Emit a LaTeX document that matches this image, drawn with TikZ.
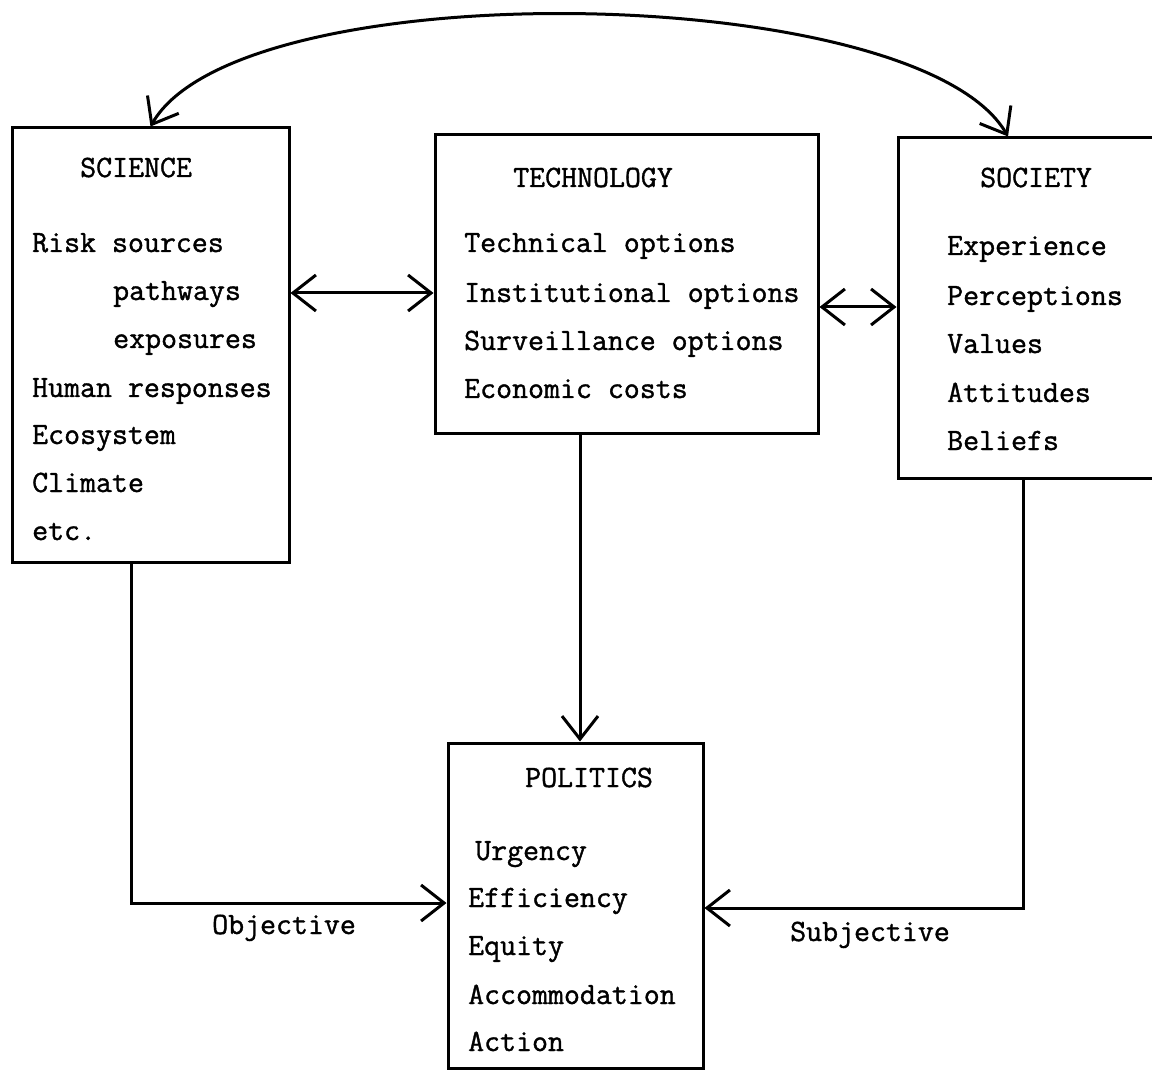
\documentclass[tikz,border=0pt]{standalone}
\usepackage{fontspec}
\newfontfamily\twfont{Latin Modern Mono}[FakeBold=1.2]
\usetikzlibrary{arrows.meta}
\begin{document}
\begin{tikzpicture}[x=1pt,y=-1pt,
  box/.style={draw, line width=3pt, inner sep=0pt},
  txt/.style={font=\twfont\fontsize{31}{36}\selectfont, inner sep=0pt, anchor=base west},
  conn/.style={line width=3pt},
  tip/.style={-{Straight Barb[length=23pt,width=36pt]}},
  tips/.style={{Straight Barb[length=23pt,width=36pt]}-{Straight Barb[length=23pt,width=36pt]}}
]
\useasboundingbox (0,0) rectangle (1152,1075);
\clip (0,0) rectangle (1152,1075);

% boxes
\node[box, minimum width=277pt, minimum height=434pt] (sci) at (150.5,345) {};
\node[box, minimum width=383pt, minimum height=298pt] (tech) at (626.5,284) {};
\node[box, minimum width=302pt, minimum height=340pt] (soc) at (1049,308) {};
\node[box, minimum width=255pt, minimum height=325pt] (pol) at (575.5,905.5) {};

% SCIENCE text
\node[txt] (sciH) at (80,177) {SCIENCE};
\node[txt] (sci1) at (32,252) {Risk sources};
\node[txt] (sci2) at (113,300) {pathways};
\node[txt] (sci3) at (113,348) {exposures};
\node[txt] (sci4) at (32,397) {Human responses};
\node[txt] (sci5) at (32,444) {Ecosystem};
\node[txt] (sci6) at (32,492) {Climate};
\node[txt] (sci7) at (32,540) {etc.};

% TECHNOLOGY text
\node[txt] (techH) at (513,187) {TECHNOLOGY};
\node[txt] (tech1) at (464,252) {Technical options};
\node[txt] (tech2) at (464,302) {Institutional options};
\node[txt] (tech3) at (464,350) {Surveillance options};
\node[txt] (tech4) at (464,398) {Economic costs};

% SOCIETY text
\node[txt] (socH) at (980,187) {SOCIETY};
\node[txt] (soc1) at (947,255) {Experience};
\node[txt] (soc2) at (947,305) {Perceptions};
\node[txt] (soc3) at (947,353) {Values};
\node[txt] (soc4) at (947,402) {Attitudes};
\node[txt] (soc5) at (947,450) {Beliefs};

% POLITICS text
\node[txt] (polH) at (525,787) {POLITICS};
\node[txt] (pol1) at (475,860) {Urgency};
\node[txt] (pol2) at (468,907) {Efficiency};
\node[txt] (pol3) at (468,955) {Equity};
\node[txt] (pol4) at (468,1004) {Accommodation};
\node[txt] (pol5) at (468,1051) {Action};

% labels
\node[txt] (obj) at (212,934) {Objective};
\node[txt] (subj) at (790,941) {Subjective};

% helper coordinates
\coordinate (yST) at (0,293);
\coordinate (yTS) at (0,307);
\coordinate (tdrop) at (580,0);
\coordinate (sdrop) at (131,903);
\coordinate (rdrop) at (1023,908);
\coordinate (cr) at (1008,0);

% connectors
\draw[conn,tips] (sci.east |- yST) -- (tech.west |- yST);
\draw[conn,tips] (tech.east |- yTS) -- (soc.west |- yTS);
\draw[conn,tip] (tech.south -| tdrop) -- (pol.north -| tdrop);
\draw[conn,tip] (sci.south -| sdrop) |- (pol.west |- sdrop);
\draw[conn,tip] (soc.south -| rdrop) |- (pol.east |- rdrop);
\draw[conn,tips] (sci.north) .. controls (240,-30) and (918,-19) .. (soc.north -| cr);
\end{tikzpicture}
\end{document}
